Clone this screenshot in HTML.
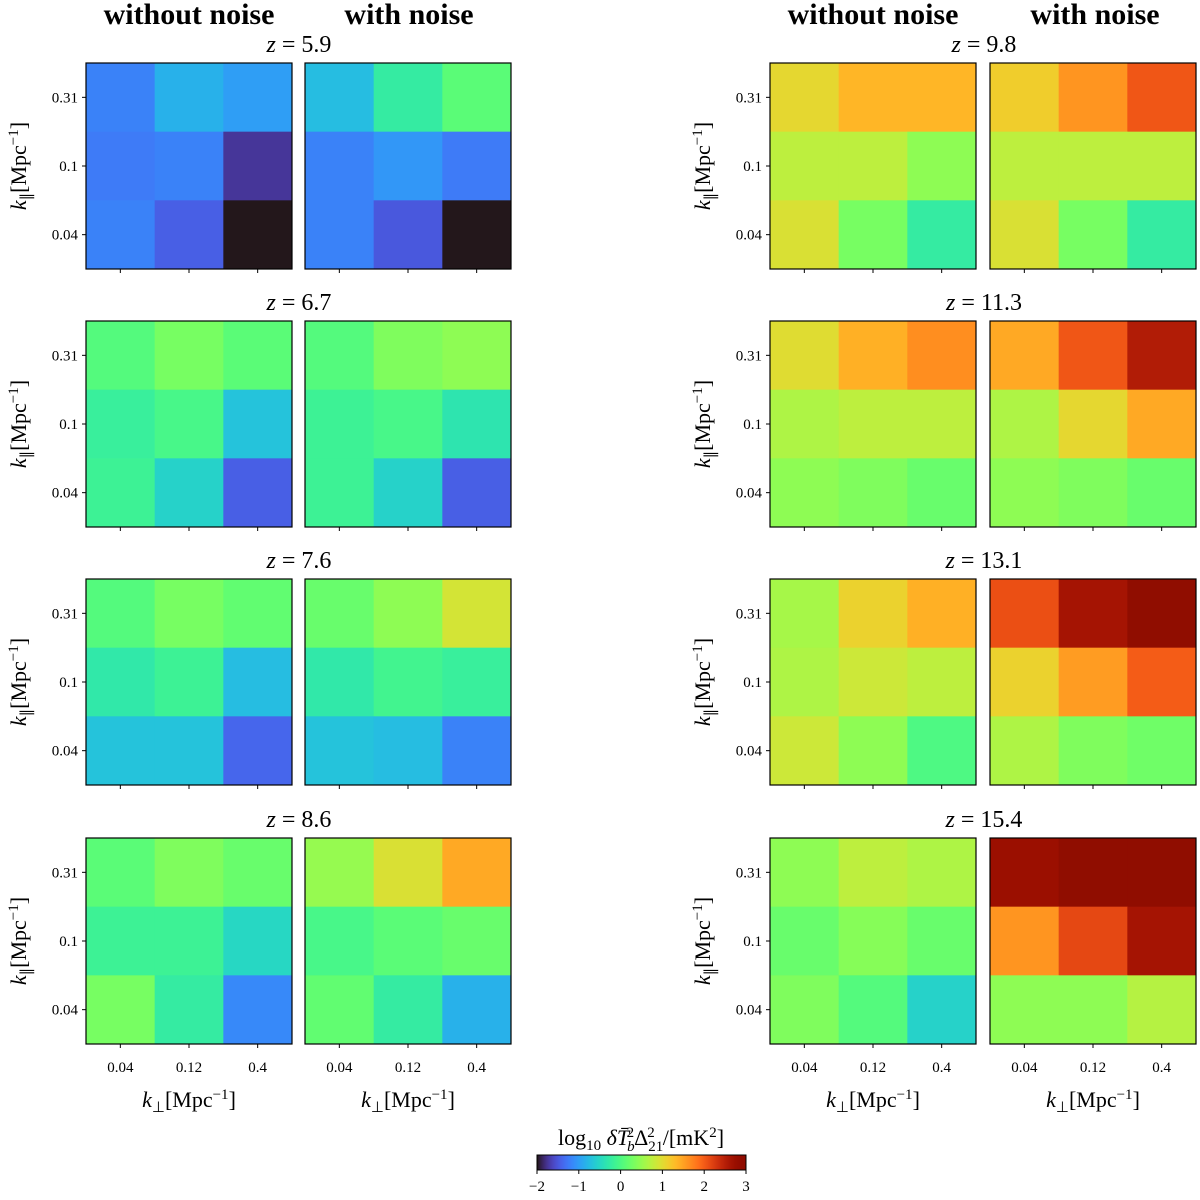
<!DOCTYPE html>
<html><head><meta charset="utf-8"><style>
html,body{margin:0;padding:0;background:#fff;width:1200px;height:1200px;overflow:hidden}
svg text{font-family:"Liberation Serif",serif;fill:#000}
</style></head><body>
<svg id="fig" width="1200" height="1200" xmlns="http://www.w3.org/2000/svg"></svg>
<script>
const redshifts = ["5.9","6.7","7.6","8.6","9.8","11.3","13.1","15.4"];
const kperpLabels = ["0.04","0.12","0.4"];
const kparLabels = ["0.31","0.1","0.04"];
const cbTicks = [-2,-1,0,1,2,3];
// values per panel: rows top->bottom (k|| 0.31,0.1,0.04), cols k_perp 0.04,0.12,0.4
const withoutNoise = [
 [[-1.2,-0.85,-1.0],[-1.25,-1.2,-1.75],[-1.2,-1.45,-2.0]],
 [[0.05,0.3,0.1],[-0.2,-0.05,-0.7],[-0.15,-0.55,-1.45]],
 [[0.05,0.3,0.15],[-0.3,-0.15,-0.75],[-0.7,-0.7,-1.4]],
 [[0.1,0.35,0.2],[-0.15,-0.15,-0.5],[0.3,-0.25,-1.15]],
 [[1.05,1.35,1.35],[0.75,0.75,0.45],[0.95,0.3,-0.25]],
 [[1.0,1.4,1.65],[0.65,0.75,0.75],[0.45,0.35,0.2]],
 [[0.6,1.1,1.4],[0.65,0.85,0.75],[0.85,0.45,0.0]],
 [[0.45,0.75,0.65],[0.2,0.4,0.2],[0.35,0.05,-0.55]]
];
const withNoise = [
 [[-0.75,-0.25,0.1],[-1.2,-1.05,-1.25],[-1.2,-1.5,-2.0]],
 [[0.05,0.35,0.45],[-0.15,-0.05,-0.35],[-0.15,-0.55,-1.45]],
 [[0.2,0.45,0.9],[-0.3,-0.1,-0.2],[-0.7,-0.75,-1.2]],
 [[0.5,0.95,1.45],[-0.05,0.1,0.2],[0.15,-0.25,-0.85]],
 [[1.15,1.6,2.05],[0.75,0.75,0.75],[0.95,0.3,-0.25]],
 [[1.45,2.05,2.55],[0.65,1.05,1.45],[0.45,0.35,0.2]],
 [[2.1,2.65,3.0],[1.1,1.55,2.0],[0.65,0.35,0.25]],
 [[2.75,3.0,3.0],[1.6,2.15,2.65],[0.45,0.45,0.7]]
];
const vmin=-2,vmax=3;
function turbo(t){t=Math.max(0,Math.min(1,t));
 const r=0.13572138+t*(4.61539260+t*(-42.66032258+t*(132.13108234+t*(-152.94239396+t*59.28637943))));
 const g=0.09140261+t*(2.19418839+t*(4.84296658+t*(-14.18503333+t*(4.27729857+t*2.82956604))));
 const b=0.10667330+t*(12.64194608+t*(-60.58204836+t*(110.36276771+t*(-89.90310912+t*27.34824973))));
 const c=x=>Math.round(Math.max(0,Math.min(1,x))*255);
 return `rgb(${c(r)},${c(g)},${c(b)})`;}
const color=v=>turbo((v-vmin)/(vmax-vmin));
const svg=document.getElementById('fig');const NS="http://www.w3.org/2000/svg";
function el(tag,attrs,parent){const e=document.createElementNS(NS,tag);for(const k in attrs)e.setAttribute(k,attrs[k]);(parent||svg).appendChild(e);return e;}
function txt(x,y,s,size,anchor,extra){const t=el('text',Object.assign({x:x,y:y,'font-size':size,'text-anchor':anchor||'middle'},extra||{}));t.innerHTML=s;return t;}
const W=206,cell=W/3;
const colX=[[86,305],[770,990]];
const rowY=[63,321,579,838];
[[189,409],[873,1095]].forEach(p=>{
 let h=txt(p[0],24,'without noise',30,'middle',{'font-weight':'bold'});
 
 
 h=txt(p[1],24,'with noise',30,'middle',{'font-weight':'bold'});
 
 
});
const xs=i=>i*cell+cell/2, ys=i=>i*cell+cell/2;
for(let p=0;p<8;p++){
 const side=p<4?0:1,row=p%4,y0=rowY[row];
 const tcx=side?984:299;
 const t=txt(tcx,y0-11,'<tspan font-style="italic">z</tspan> = '+redshifts[p],24);
 
 
 [withoutNoise[p],withNoise[p]].forEach((data,k)=>{
  const x0=colX[side][k];
  const g=el('g',{});
  
  
  for(let r=0;r<3;r++)for(let c=0;c<3;c++){
   const rc=el('rect',{x:x0+xs(c)-cell/2,y:y0+ys(r)-cell/2,width:cell+0.5,height:cell+0.5,fill:color(data[r][c])},g);
   
   
  }
  el('rect',{x:x0,y:y0,width:W,height:W,fill:'none',stroke:'#000','stroke-width':1.2},g);
  for(let c=0;c<3;c++){el('line',{x1:x0+xs(c),x2:x0+xs(c),y1:y0+W,y2:y0+W+4,stroke:'#000'},g);}
  if(k==0){
   for(let r=0;r<3;r++){el('line',{x1:x0-4,x2:x0,y1:y0+ys(r),y2:y0+ys(r),stroke:'#000'},g);
    const tl=txt(x0-8,y0+ys(r)+5,kparLabels[r],15,'end');
    
    }
   const yl=txt(0,0,'<tspan font-style="italic">k</tspan><tspan font-size="15" dy="5">∥</tspan><tspan dy="-5">[Mpc</tspan><tspan font-size="15" dy="-8">−1</tspan><tspan dy="8">]</tspan>',22,'middle',{transform:`translate(${x0-60},${y0+W/2}) rotate(-90)`});
   
   
  }
  if(row==3){
   for(let c=0;c<3;c++){const tl=txt(x0+xs(c),y0+W+28,kperpLabels[c],15);
    
    }
   const xl=txt(x0+W/2,y0+W+63,'<tspan font-style="italic">k</tspan><tspan font-size="15" dy="5">⊥</tspan><tspan dy="-5">[Mpc</tspan><tspan font-size="15" dy="-8">−1</tspan><tspan dy="8">]</tspan>',22);
   
   
  }
 });
}
const cbx=537,cbw=209,cby=1155,cbh=15;
const cb=el('g',{});


for(let i=0;i<cbw;i++){el('rect',{x:cbx+i,y:cby,width:1.5,height:cbh,fill:turbo(i/(cbw-1))},cb);}
el('rect',{x:cbx,y:cby,width:cbw,height:cbh,fill:'none',stroke:'#000','stroke-width':1},cb);
cbTicks.forEach(v=>{const x=cbx+(v-vmin)/(vmax-vmin)*cbw;el('line',{x1:x,x2:x,y1:cby+cbh,y2:cby+cbh+4,stroke:'#000'},cb);
 const tl=txt(x,cby+cbh+21,v<0?'−'+Math.abs(v):String(v),15);
 
 });
const cl=txt(641,1145,'log<tspan font-size="15" dy="5">10</tspan><tspan dy="-5"> <tspan font-style="italic">δT̄</tspan></tspan><tspan font-size="15" font-style="italic" dx="-2" dy="6">b</tspan><tspan font-size="15" dx="-8" dy="-14">2</tspan><tspan dy="8">Δ</tspan><tspan font-size="15" dy="6">21</tspan><tspan font-size="15" dx="-16" dy="-14">2</tspan><tspan dx="8" dy="8">/[mK</tspan><tspan font-size="15" dy="-8">2</tspan><tspan dy="8">]</tspan>',22);


</script>
</body></html>
